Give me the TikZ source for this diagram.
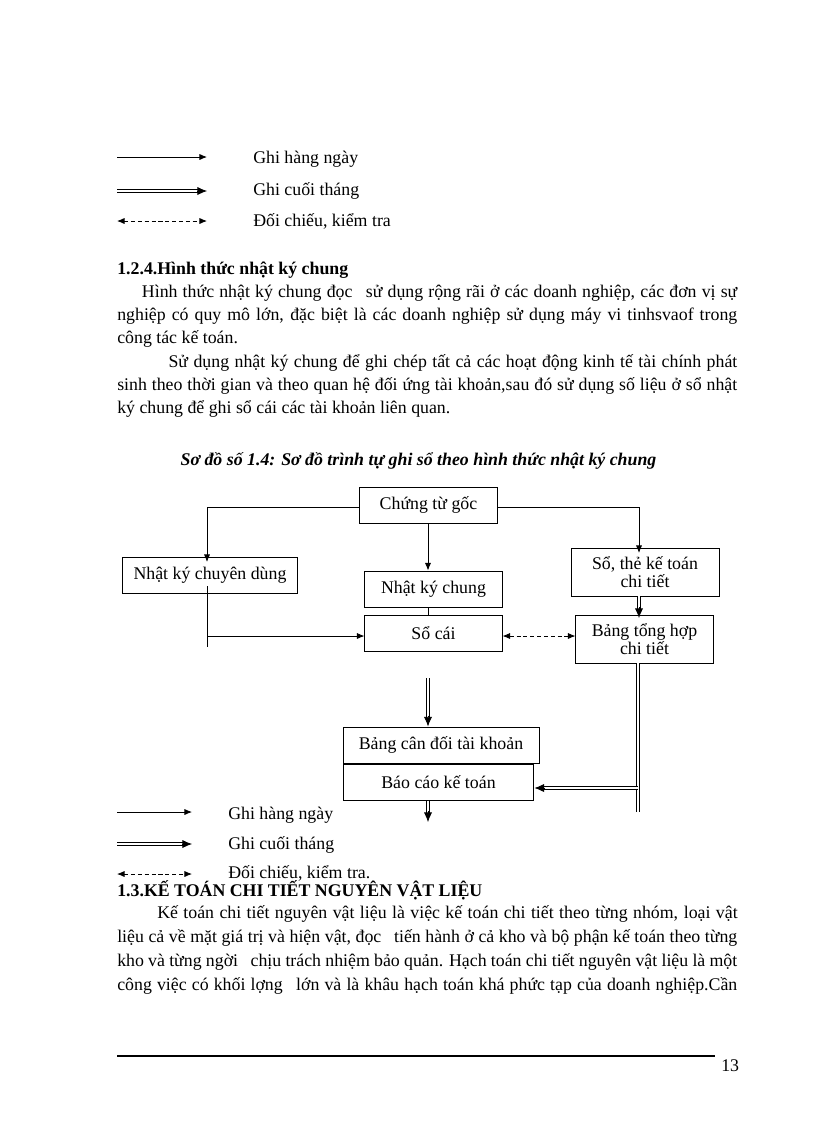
\documentclass[tikz,border=0pt]{standalone}
\usepackage{fontspec}
\setmainfont{Liberation Serif}
\usetikzlibrary{arrows}
\usetikzlibrary{arrows.meta}
\usetikzlibrary{positioning}

\begin{document}
\begin{tikzpicture}[x=0.7295pt,y=-0.7295pt]
	%\draw[help lines] (0,0) grid (816,1123);
	\useasboundingbox (0,0) rectangle (816,1123);

	\tikzstyle{tline} = [anchor=base west,inner sep=0pt,font=\fontsize{13pt}{15pt}\selectfont]
	\tikzstyle{bnode} = [draw,line width=0.7pt,minimum width=100pt,minimum height=26.3pt,inner sep=1pt,align=center,font=\fontsize{13pt}{13pt}\selectfont]
	\tikzstyle{dedge} = [-{Latex[length=5.5pt,width=4.5pt]},line width=0.6pt]
	\tikzstyle{medge} = [line width=0.75pt,double,double distance=1.1pt,shorten >=5pt]
	\tikzstyle{mtip} = [-{Latex[length=7pt,width=6pt]},line width=0.6pt]
	\tikzstyle{cedge} = [{Latex[length=5.5pt,width=4.5pt]}-{Latex[length=5.5pt,width=4.5pt]},line width=0.6pt,dash pattern=on 3pt off 2pt]

% legend, top
\node (l1a) at (117,157) {};
\node (l1b) at (207,157) {};
\node (l2a) at (117,191) {};
\node (l2b) at (207,191) {};
\node (l2c) at (197,191) {};
\node (l3a) at (117,221) {};
\node (l3b) at (207,221) {};
\draw [dedge] (l1a.center) -- (l1b.center);
\draw [medge] (l2a.center) -- (l2b.center);
\draw [mtip] (l2c.center) -- (l2b.center);
\draw [cedge] (l3a.center) -- (l3b.center);
\node[tline] (t1) at (253,163) {Ghi hàng ngày};
\node[tline] (t2) at (253,195) {Ghi cuối tháng};
\node[tline] (t3) at (253,226) {Đối chiếu, kiểm tra};

% 1.2.4
\node[tline] (h1) at (117,274) {\bfseries 1.2.4.Hình thức nhật ký chung};
\node[tline] (p1) at (141.7,297) {\makebox[434.3pt][s]{Hình thức nhật ký chung đọc\hspace{6pt} sử dụng rộng rãi ở các doanh nghiệp, các đơn vị sự}};
\node[tline] (p2) at (117,320) {\makebox[452.3pt][s]{nghiệp có quy mô lớn, đặc biệt là các doanh nghiệp sử dụng máy vi tinhsvaof trong}};
\node[tline] (p3) at (117,343) {công tác kế toán.};
\node[tline] (p4) at (168.3,367) {\makebox[414.9pt][s]{Sử dụng nhật ký chung để ghi chép tất cả các hoạt động kinh tế tài chính phát}};
\node[tline] (p5) at (117,390) {\makebox[452.3pt][s]{sinh theo thời gian và theo quan hệ đối ứng tài khoản,sau đó sử dụng số liệu ở sổ nhật}};
\node[tline] (p6) at (117,413) {ký chung để ghi sổ cái các tài khoản liên quan.};

\node[tline,anchor=base] (cap) at (418.5,465) {\bfseries\itshape Sơ đồ số 1.4: Sơ đồ trình tự ghi sổ theo hình thức nhật ký chung};

% diagram
\node[bnode] (goc) at (428.5,505) {Chứng từ gốc};
\node[bnode,minimum width=127pt] (nkcd) at (210,575) {Nhật ký chuyên dùng};
\node[bnode] (nkc) at (433.5,589) {Nhật ký chung};
\node[bnode,minimum width=108pt,minimum height=35pt] (sothe) at (645,572) {Sổ, thẻ kế toán\\chi tiết};
\node[bnode] (socai) at (433.5,633) {Sổ cái};
\node[bnode,minimum height=35pt] (bth) at (644.5,639) {Bảng tổng hợp\\chi tiết};
\node[bnode,minimum width=143pt] (bcd) at (441,745) {Bảng cân đối tài khoản};
\node[bnode,minimum width=139.3pt] (bc) at (438.5,782) {Báo cáo kế toán};

\coordinate (c1) at (207,562);
\coordinate (c2) at (639,553);
\coordinate (c3) at (207,586);
\coordinate (c4) at (207,647);
\coordinate (c5) at (207,636);
\coordinate (c6) at (639,618);
\coordinate (c7) at (638,663);
\coordinate (c8) at (638,812);
\coordinate (c9) at (638,788);
\coordinate (c10) at (428,678);
\coordinate (c11) at (428,822);

\draw [dedge] (goc.west |- 0,507) -| (c1);
\draw [dedge] (goc.east |- 0,507) -| (c2);
\draw [dedge] (goc.south -| 428,0) -- (nkc.north -| 428,0);
\draw [line width=0.6pt] (nkc.south -| 428,0) -- (socai.north -| 428,0);
\draw [line width=0.6pt] (c3) -- (c4);
\draw [dedge] (c5) -- (socai.west |- c5);
\draw [cedge] (socai.east |- c5) -- (bth.west |- c5);
\draw [medge] (sothe.south -| c6) -- (c6);
\draw [mtip] ([yshift=8pt]c6) -- (c6);
\draw [medge,line width=0.6pt,double distance=1.4pt,shorten >=0pt] (c7) -- (c8);
\draw [medge,line width=0.6pt,double distance=1.4pt] (c9) -- (bc.east |- c9);
\draw [mtip] ([xshift=8pt]bc.east |- c9) -- (bc.east |- c9);
\draw [medge] (c10) -- (bcd.north -| c10);
\draw [mtip] ([yshift=8pt]bcd.north -| c10) -- (bcd.north -| c10);
\draw [medge] (bc.south -| c11) -- (c11);
\draw [mtip] ([yshift=8pt]c11) -- (c11);

% legend, bottom
\node (l4a) at (117,812) {};
\node (l4b) at (192,812) {};
\node (l5a) at (117,844) {};
\node (l5b) at (192,844) {};
\node (l5c) at (182,844) {};
\node (l6a) at (117,874) {};
\node (l6b) at (192,874) {};
\draw [dedge] (l4a.center) -- (l4b.center);
\draw [medge] (l5a.center) -- (l5b.center);
\draw [mtip] (l5c.center) -- (l5b.center);
\draw [cedge] (l6a.center) -- (l6b.center);
\node[tline] (t4) at (228,819) {Ghi hàng ngày};
\node[tline] (t5) at (228,849) {Ghi cuối tháng};
\node[tline] (t6) at (228,878) {Đối chiếu, kiểm tra.};

% 1.3
\node[tline] (h2) at (117,896) {\bfseries 1.3.KẾ TOÁN CHI TIẾT NGUYÊN\ VẬT LIỆU};
\node[tline] (q1) at (157,918) {\makebox[423.4pt][s]{Kế toán chi tiết nguyên vật liệu là việc kế toán chi tiết theo từng nhóm, loại vật}};
\node[tline] (q2) at (117,942) {\makebox[452.3pt][s]{liệu cả về mặt giá trị và hiện vật, đọc\hspace{6pt} tiến hành ở cả kho và bộ phận kế toán theo từng}};
\node[tline] (q3) at (117,966) {\makebox[452.3pt][s]{kho và từng ngời\hspace{6pt} chịu trách nhiệm bảo quản. Hạch toán chi tiết nguyên vật liệu là một}};
\node[tline] (q4) at (117,990) {\makebox[452.3pt][s]{công việc có khối lợng\hspace{6pt} lớn và là khâu hạch toán khá phức tạp của doanh nghiệp.Cần}};

% footer
\node (f1) at (117,1056) {};
\node (f2) at (715,1056) {};
\draw [line width=1.6pt] (f1.center) -- (f2.center);
\node[tline] (pg) at (721,1071) {13};
\end{tikzpicture}
\end{document}
